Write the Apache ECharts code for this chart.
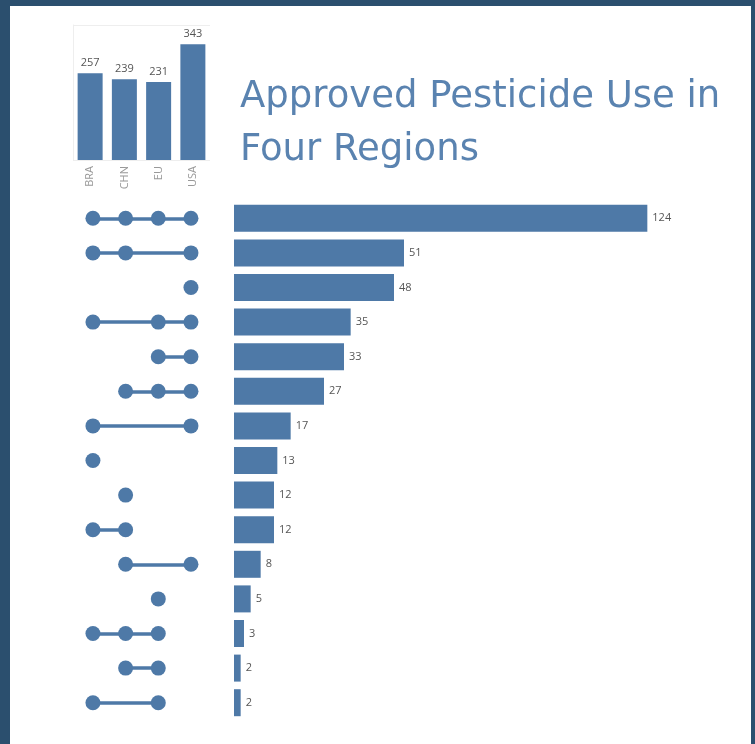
<!DOCTYPE html>
<html>
<head>
<meta charset="utf-8">
<script src="https://cdn.jsdelivr.net/npm/echarts@6/dist/echarts.min.js"></script>
<style>
html,body{margin:0;padding:0;background:#2b4f6e;width:755px;height:744px;overflow:hidden;}
#chart{position:absolute;left:10px;top:6px;width:741px;height:738px;background:#ffffff;}
</style>
</head>
<body>
<div id="chart"></div>
<script>
// ---- data ----
const regions = ["BRA", "CHN", "EU", "USA"];
const regionTotals = [257, 239, 231, 343];
const comboSets = [
  ["BRA", "CHN", "EU", "USA"],
  ["BRA", "CHN", "USA"],
  ["USA"],
  ["BRA", "EU", "USA"],
  ["EU", "USA"],
  ["CHN", "EU", "USA"],
  ["BRA", "USA"],
  ["BRA"],
  ["CHN"],
  ["BRA", "CHN"],
  ["CHN", "USA"],
  ["EU"],
  ["BRA", "CHN", "EU"],
  ["CHN", "EU"],
  ["BRA", "EU"]
];
const comboCounts = [124, 51, 48, 35, 33, 27, 17, 13, 12, 12, 8, 5, 3, 2, 2];
const titleLines = ["Approved Pesticide Use in", "Four Regions"];

// ---- build ----
const BLUE = "#4e79a7";
const rowIdx = comboCounts.map((_, i) => i);
const dotData = [];
const lineData = [];
comboSets.forEach((set, r) => {
  const xs = set.map(s => regions.indexOf(s));
  xs.forEach(x => dotData.push([x, r]));
  if (xs.length > 1) {
    lineData.push({ coords: [[Math.min(...xs), r], [Math.max(...xs), r]] });
  }
});

const chart = echarts.init(document.getElementById("chart"), null, { renderer: "canvas" });
const option = {
  animation: false,
  backgroundColor: "#ffffff",
  title: {
    text: titleLines.join("\n"),
    left: 225,
    top: 60,
    textStyle: {
      fontFamily: "DejaVu Sans",
      fontSize: 37,
      fontWeight: "normal",
      color: "#5a83b0",
      lineHeight: 53
    }
  },
  grid: [
    { left: 63, top: 19, width: 137, height: 135 },
    { left: 66.6, top: 195, width: 130.7, height: 519 },
    { left: 224, top: 195, width: 500, height: 519 }
  ],
  xAxis: [
    {
      gridIndex: 0, type: "category", data: regions,
      axisLine: { show: false }, axisTick: { show: false },
      axisLabel: { rotate: 90, color: "#999", fontSize: 11, fontFamily: "Open Sans", margin: 6 }
    },
    {
      gridIndex: 1, type: "value", min: -0.5, max: 3.5, show: false
    },
    {
      gridIndex: 2, type: "value", min: 0, max: 150, show: false
    }
  ],
  yAxis: [
    {
      gridIndex: 0, type: "value", min: 0, max: 400, interval: 400,
      axisLabel: { show: false }, axisTick: { show: false },
      axisLine: { show: true, lineStyle: { color: "#eeeeee" } },
      splitLine: { show: true, lineStyle: { color: "#eeeeee" } }
    },
    {
      gridIndex: 1, type: "value", min: -0.5, max: 14.5, inverse: true, show: false
    },
    {
      gridIndex: 2, type: "category", data: rowIdx, inverse: true, show: false
    }
  ],
  series: [
    {
      type: "bar", xAxisIndex: 0, yAxisIndex: 0,
      data: regionTotals, barWidth: 25,
      itemStyle: { color: BLUE },
      label: { show: true, position: "top", distance: 5, color: "#555", fontSize: 11, fontFamily: "Open Sans" }
    },
    {
      type: "lines", coordinateSystem: "cartesian2d", xAxisIndex: 1, yAxisIndex: 1,
      data: lineData,
      lineStyle: { color: BLUE, width: 3.5, opacity: 1 },
      z: 2
    },
    {
      type: "scatter", xAxisIndex: 1, yAxisIndex: 1,
      data: dotData, symbolSize: 15,
      itemStyle: { color: BLUE, opacity: 1 },
      z: 3
    },
    {
      type: "bar", xAxisIndex: 2, yAxisIndex: 2,
      data: comboCounts, barWidth: 27,
      itemStyle: { color: BLUE },
      label: { show: true, position: "right", distance: 5, color: "#555", fontSize: 11, fontFamily: "Open Sans" }
    }
  ]
};
chart.setOption(option);
</script>
</body>
</html>
